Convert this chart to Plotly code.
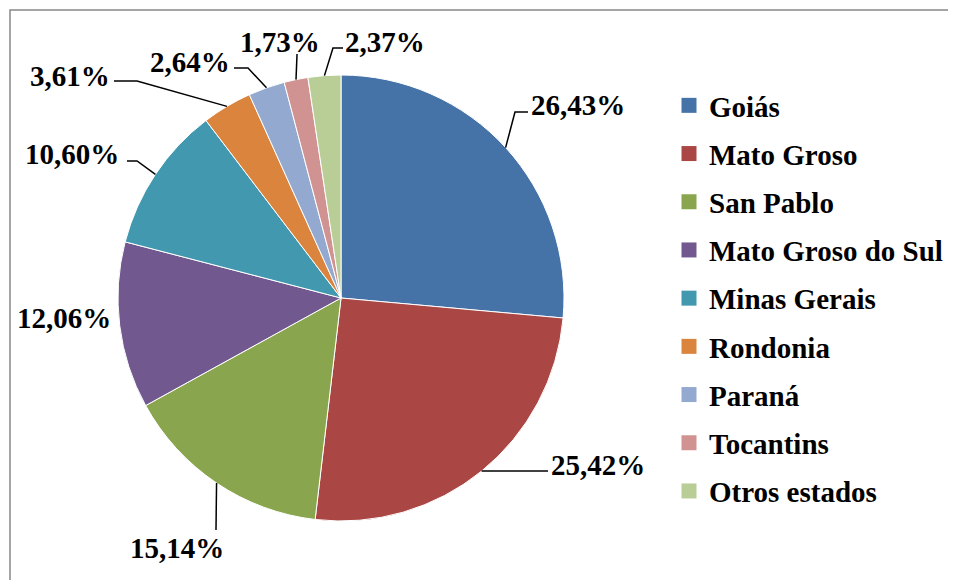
import math
import plotly.graph_objects as go

# data
estados = ["Goiás", "Mato Groso", "San Pablo", "Mato Groso do Sul", "Minas Gerais",
           "Rondonia", "Paraná", "Tocantins", "Otros estados"]
porcentajes = [26.43, 25.42, 15.14, 12.06, 10.60, 3.61, 2.64, 1.73, 2.37]
etiquetas = ["26,43%", "25,42%", "15,14%", "12,06%", "10,60%", "3,61%", "2,64%", "1,73%", "2,37%"]

colores = ["#4572A7", "#AA4643", "#89A54E", "#71588F", "#4198AF",
           "#DB843D", "#93A9CF", "#D19392", "#B9CD96"]

# the page body has an 8px margin, so the figure is drawn 8px in
OFF = 8
W, H = 956 - OFF, 580 - OFF
FONT = "Liberation Serif"
FSIZE = 29

# pie placement in (page) pixels
cx, cy, r = 341, 298, 223

# manual label placement (page pixels), like Excel's dragged labels
# text centre, then the leader line points from the slice edge to the label
text_pos = [(578, 105), (598, 465), (177, 548), (64, 318), (72, 154),
            (70, 76), (190, 62), (280, 42), (385, 42)]
leader = [[(515, 112), (528, 112)],
          [(548, 471)],
          [(216, 530)],
          [],
          [(137, 161), (127, 161)],
          [(137, 81), (114, 81)],
          [(248, 68), (234, 68)],
          [(297, 54)],
          [(333, 48), (343, 48)]]


def px(x, y):
    return (x - OFF) / W, 1 - (y - OFF) / H


fig = go.Figure()

x0, y0 = px(cx - r, cy + r)
x1, y1 = px(cx + r, cy - r)
fig.add_trace(go.Pie(labels=estados, values=porcentajes, sort=False,
                     direction="clockwise", rotation=0,
                     marker=dict(colors=colores, line=dict(color="white", width=1)),
                     textinfo="none", hoverinfo="label+percent",
                     showlegend=False, domain=dict(x=[x0, x1], y=[y0, y1])))

# legend entries (one group each so the spacing can be opened up)
for est, col in zip(estados, colores):
    fig.add_trace(go.Scatter(x=[None], y=[None], mode="markers", name=est,
                             legendgroup=est,
                             marker=dict(symbol="square", size=15, color=col)))

# labels + leader lines
acum = 0
total = sum(porcentajes)
for i, v in enumerate(porcentajes):
    ang = math.radians((acum + v / 2) / total * 360)
    acum += v
    ex, ey = cx + r * math.sin(ang), cy - r * math.cos(ang)
    if leader[i]:
        pts = [(ex, ey)] + leader[i]
        path = "M " + " L ".join("%.4f %.4f" % px(a, b) for a, b in pts)
        fig.add_shape(type="path", path=path, xref="paper", yref="paper",
                      line=dict(color="black", width=1.5))
    tx, ty = px(*text_pos[i])
    fig.add_annotation(x=tx, y=ty, xref="paper", yref="paper",
                       text=etiquetas[i],
                       showarrow=False, xanchor="center", yanchor="middle",
                       font=dict(family=FONT, size=FSIZE, color="black", weight="bold"))

# chart border (only top and left edges fall inside the picture)
bx, by = px(10, 10)
fig.add_shape(type="rect", xref="paper", yref="paper",
              x0=bx, x1=1.02, y0=-0.02, y1=by,
              line=dict(color="#888888", width=1.5))

lx, ly = px(669, 298.5)
fig.update_layout(
    width=W, height=H,
    margin=dict(l=0, r=0, t=0, b=0),
    font=dict(family=FONT, size=FSIZE, color="black"),
    paper_bgcolor="white", plot_bgcolor="white",
    xaxis=dict(visible=False), yaxis=dict(visible=False),
    legend=dict(x=lx, y=ly, xanchor="left", yanchor="middle",
                tracegroupgap=7.5, itemclick=False,
                font=dict(family=FONT, size=FSIZE, color="black", weight="bold")),
)

fig.write_html("out.html")
